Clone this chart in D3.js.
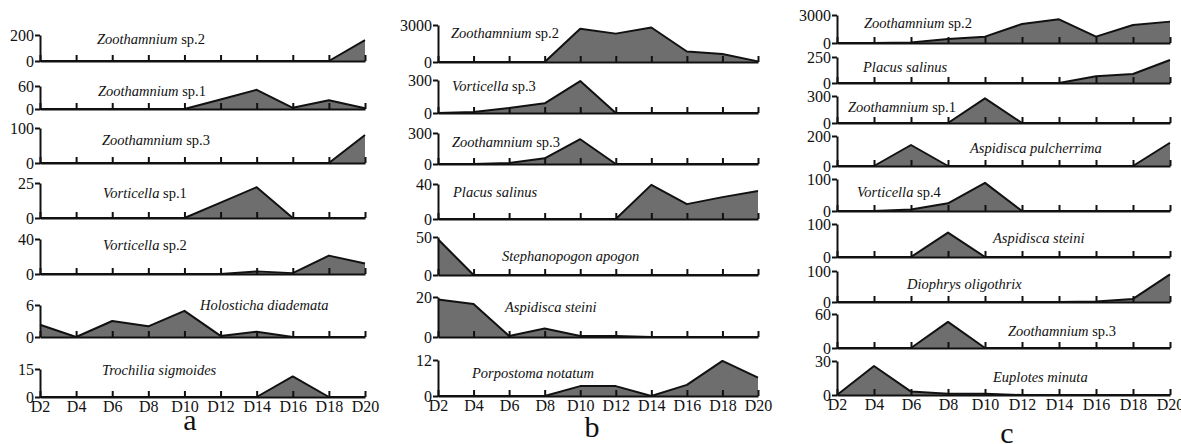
<!doctype html>
<html>
<head>
<meta charset="UTF-8">
<script src="https://d3js.org/d3.v7.min.js"></script>
<style>
body { margin: 0; background: #fff; }
svg text { font-family: "Liberation Serif", "Times New Roman", Times, serif; fill: #111; }
.axis path, .axis line { stroke: #111; stroke-width: 2; }
.axis text { font-size: 16px; }
.area { fill: #6e6e6e; }
.line { fill: none; stroke: #111; stroke-width: 2; stroke-linejoin: round; }
.name { font-size: 14.5px; }
.letter { font-size: 30px; }
</style>
</head>
<body>
<script>
// sampling days, shared by the three panels
var days = ["D2", "D4", "D6", "D8", "D10", "D12", "D14", "D16", "D18", "D20"];

// panel a
var aNames = [["Zoothamnium", " sp.2"], ["Zoothamnium", " sp.1"], ["Zoothamnium", " sp.3"],
              ["Vorticella", " sp.1"], ["Vorticella", " sp.2"], ["Holosticha diademata", ""],
              ["Trochilia sigmoides", ""]];
var aTops = [200, 60, 100, 25, 40, 6, 15];
var aValues = [
  [0, 0, 0, 0, 0, 0, 0, 0, 0, 160],
  [0, 0, 0, 0, 0, 25, 50, 3, 23, 2],
  [0, 0, 0, 0, 0, 0, 0, 0, 0, 80],
  [0, 0, 0, 0, 0, 11, 22, 0, 0, 0],
  [0, 0, 0, 0, 0, 0, 3, 1, 21, 12],
  [2.3, 0, 3, 2, 4.9, 0.2, 1, 0, 0, 0],
  [0, 0, 0, 0, 0, 0, 0, 11, 0, 0]
];

// panel b
var bNames = [["Zoothamnium", " sp.2"], ["Vorticella", " sp.3"], ["Zoothamnium", " sp.3"],
              ["Placus salinus", ""], ["Stephanopogon apogon", ""], ["Aspidisca steini", ""],
              ["Porpostoma notatum", ""]];
var bTops = [3000, 300, 300, 40, 50, 20, 12];
var bValues = [
  [0, 0, 0, 0, 2700, 2300, 2800, 850, 650, 50],
  [0, 10, 45, 88, 290, 0, 0, 0, 0, 0],
  [0, 0, 10, 55, 240, 0, 0, 0, 0, 0],
  [0, 0, 0, 0, 0, 0, 39, 17, 25, 32],
  [47, 0, 0, 0, 0, 0, 0, 0, 0, 0],
  [18.8, 16.5, 0.5, 4.3, 0.5, 0.5, 0, 0, 0, 0],
  [0, 0, 0, 0, 3.3, 3.3, 0, 3.7, 11.7, 6.1]
];

// panel c
var cNames = [["Zoothamnium", " sp.2"], ["Placus salinus", ""], ["Zoothamnium", " sp.1"],
              ["Aspidisca pulcherrima", ""], ["Vorticella", " sp.4"], ["Aspidisca steini", ""],
              ["Diophrys oligothrix", ""], ["Zoothamnium", " sp.3"], ["Euplotes minuta", ""]];
var cTops = [3000, 250, 300, 200, 100, 100, 100, 60, 30];
var cValues = [
  [0, 0, 50, 430, 680, 2040, 2540, 680, 1930, 2290],
  [0, 0, 0, 0, 0, 0, 0, 65, 87, 221],
  [0, 0, 0, 0, 274, 0, 0, 0, 0, 0],
  [0, 0, 140, 0, 0, 0, 0, 0, 0, 155],
  [0, 0, 5, 24, 88, 0, 0, 0, 0, 0],
  [0, 0, 0, 74, 0, 0, 0, 0, 0, 0],
  [0, 0, 0, 0, 0, 0, 0, 2, 10, 89],
  [0, 0, 0, 46, 0, 0, 0, 0, 0, 0],
  [0, 25.6, 3, 1, 1, 0, 0, 0, 0, 0]
];

var serif = "'Liberation Serif', 'Times New Roman', Times, serif";

// page layout of each panel (pixel frames of the strips, label spots)
var panels = [
  { letter: "a", names: aNames, tops: aTops, values: aValues,
    x0: 40, x1: 365,
    yTop: [35, 86, 128, 183, 239, 305, 369],
    yZero: [61, 109, 163, 218, 274, 337, 397],
    labels: [[97, 44], [98, 96], [102, 145], [103, 198], [103, 250], [200, 310], [102, 375]],
    letterPos: [190, 430] },
  { letter: "b", names: bNames, tops: bTops, values: bValues,
    x0: 438, x1: 758,
    yTop: [25, 80, 133, 184, 237, 297, 360],
    yZero: [62, 113, 164, 219, 275, 337, 396],
    labels: [[451, 38], [452, 91], [452, 147], [453, 197], [502, 261], [505, 312], [472, 378]],
    letterPos: [592, 437] },
  { letter: "c", names: cNames, tops: cTops, values: cValues,
    x0: 837, x1: 1170,
    yTop: [15, 57, 96, 136, 179, 224, 271, 314, 361],
    yZero: [43, 83, 123, 166, 211, 257, 302, 348, 395],
    labels: [[864, 28], [863, 72], [848, 112], [970, 153], [857, 197], [993, 243], [907, 289], [1008, 336], [993, 382]],
    letterPos: [1007, 443] }
];

var svg = d3.select("body").append("svg")
    .attr("width", 1181)
    .attr("height", 444)
    .attr("font-family", serif);

panels.forEach(function(p) {
  var x = d3.scalePoint().domain(days).range([p.x0, p.x1]);
  var last = p.values.length - 1;

  p.values.forEach(function(vals, i) {
    var y = d3.scaleLinear().domain([0, p.tops[i]]).range([p.yZero[i], p.yTop[i]]);
    var g = svg.append("g");
    var pts = days.map(function(d, k) { return [d, vals[k]]; });

    var area = d3.area()
        .x(function(d) { return x(d[0]); })
        .y0(y(0))
        .y1(function(d) { return y(d[1]); });
    var line = d3.line()
        .x(function(d) { return x(d[0]); })
        .y(function(d) { return y(d[1]); });

    g.append("path").datum(pts).attr("class", "area").attr("d", area);
    g.append("path").datum(pts).attr("class", "line").attr("d", line);

    // x axis: ticks pointing up, labels only under the last strip
    var xAxis = d3.axisBottom(x).tickSizeInner(-6).tickSizeOuter(0).tickPadding(4);
    if (i !== last) xAxis.tickFormat("");
    g.append("g")
        .attr("class", "axis")
        .attr("transform", "translate(0," + y(0) + ")")
        .call(xAxis)
        .attr("font-family", serif)
        .attr("font-size", 16);

    // y axis: just 0 and the top value
    g.append("g")
        .attr("class", "axis")
        .attr("transform", "translate(" + p.x0 + ",0)")
        .call(d3.axisLeft(y).tickValues([0, p.tops[i]]).tickFormat(d3.format("d"))
              .tickSizeInner(5).tickSizeOuter(0).tickPadding(1))
        .attr("font-family", serif)
        .attr("font-size", 16);

    // species name, genus in italics
    var t = g.append("text")
        .attr("class", "name")
        .attr("x", p.labels[i][0])
        .attr("y", p.labels[i][1]);
    t.append("tspan").style("font-style", "italic").text(p.names[i][0]);
    if (p.names[i][1]) t.append("tspan").text(p.names[i][1]);
  });

  svg.selectAll(".axis .domain").attr("fill", "none");

  svg.append("text")
      .attr("class", "letter")
      .attr("x", p.letterPos[0])
      .attr("y", p.letterPos[1])
      .attr("text-anchor", "middle")
      .text(p.letter);
});
</script>
</body>
</html>
